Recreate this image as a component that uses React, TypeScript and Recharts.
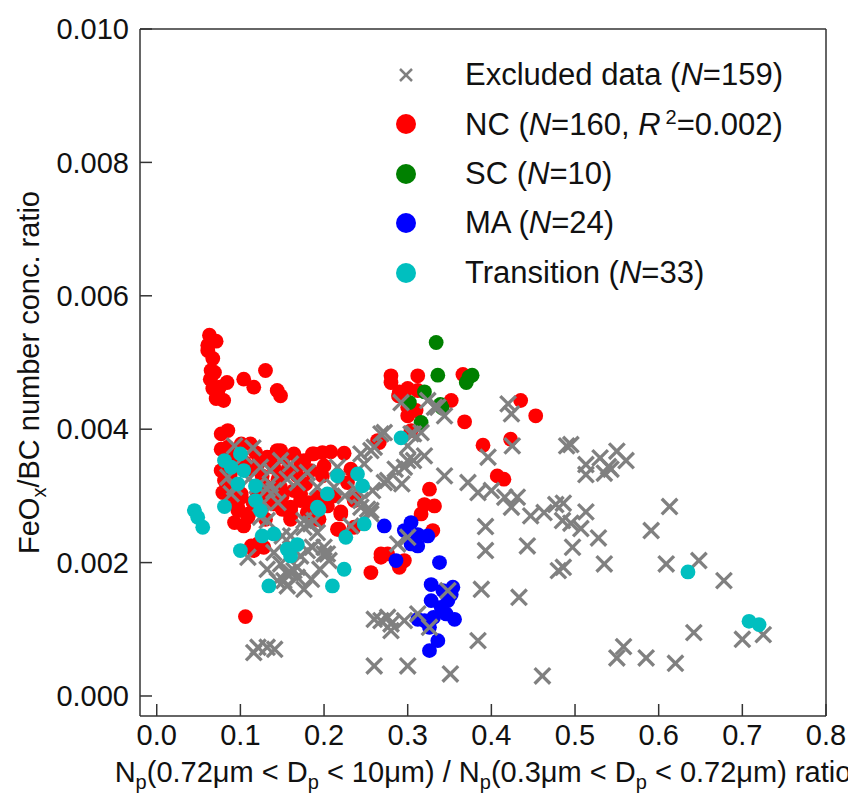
import React from 'react';
import { ScatterChart, Scatter, XAxis, YAxis, Label } from 'recharts';

// [x ratio, FeOx/BC ratio]
const excludedPts = [
  [0.292, 0.0044], [0.272, 0.00395], [0.3, 0.00353], [0.307, 0.00353], [0.296, 0.00343], [0.272, 0.0032], [0.293, 0.00318], [0.344, 0.0033], [0.372, 0.0032], [0.384, 0.00305],
  [0.396, 0.00358], [0.4, 0.00308], [0.416, 0.00298], [0.431, 0.00298], [0.42, 0.00438], [0.424, 0.00423], [0.425, 0.00375], [0.424, 0.00283], [0.447, 0.0027], [0.463, 0.00275],
  [0.477, 0.00287], [0.485, 0.00263], [0.49, 0.00375], [0.393, 0.00254], [0.443, 0.00225], [0.393, 0.00218], [0.48, 0.00188], [0.388, 0.0016], [0.433, 0.00148], [0.384, 0.00083],
  [0.461, 0.0003], [0.351, 0.00033], [0.3, 0.00045], [0.26, 0.00045], [0.26, 0.00115], [0.276, 0.00118], [0.28, 0.00098], [0.296, 0.00113], [0.312, 0.00123], [0.326, 0.00103],
  [0.348, 0.00158], [0.3, 0.00238], [0.288, 0.00228], [0.256, 0.00278], [0.258, 0.00308], [0.336, 0.00433], [0.344, 0.0042], [0.307, 0.00393], [0.256, 0.00368],
  [0.495, 0.00377], [0.513, 0.00347], [0.513, 0.00332], [0.53, 0.00357], [0.54, 0.00344], [0.55, 0.00367], [0.561, 0.00353], [0.535, 0.00334], [0.543, 0.0034], [0.486, 0.00289],
  [0.495, 0.00259], [0.513, 0.00276], [0.507, 0.00251], [0.497, 0.00223], [0.486, 0.00193], [0.528, 0.00237], [0.535, 0.00198], [0.613, 0.00284], [0.591, 0.00248], [0.609, 0.00198],
  [0.648, 0.00203], [0.678, 0.00173], [0.642, 0.00095], [0.7, 0.00085], [0.725, 0.00092], [0.558, 0.00074], [0.55, 0.00057], [0.585, 0.00057], [0.62, 0.00049],
  [0.109, 0.00208], [0.132, 0.0019], [0.148, 0.00198], [0.156, 0.00183], [0.164, 0.00188], [0.144, 0.00173], [0.156, 0.00165], [0.176, 0.0016], [0.168, 0.00178], [0.18, 0.00218],
  [0.2, 0.00213], [0.206, 0.00203], [0.121, 0.00073], [0.132, 0.00073], [0.141, 0.0007], [0.116, 0.00065], [0.268, 0.00113], [0.28, 0.00108],
  [0.132, 0.00263], [0.152, 0.00173], [0.16, 0.00185], [0.168, 0.00193], [0.176, 0.00263], [0.192, 0.00245], [0.204, 0.00213], [0.186, 0.00223], [0.244, 0.00283], [0.256, 0.00273],
  [0.136, 0.00338], [0.148, 0.00353], [0.16, 0.00348], [0.156, 0.00325], [0.168, 0.0032], [0.132, 0.0031], [0.14, 0.00308], [0.188, 0.00263], [0.176, 0.00253], [0.2, 0.00223],
  [0.212, 0.00313], [0.244, 0.00363], [0.248, 0.00348], [0.26, 0.00373], [0.268, 0.00393], [0.244, 0.00293], [0.252, 0.0028], [0.232, 0.00255], [0.276, 0.00323], [0.124, 0.00268],
  [0.093, 0.00375], [0.085, 0.00328], [0.124, 0.00343], [0.136, 0.00318], [0.192, 0.00313], [0.216, 0.00343], [0.093, 0.00313], [0.089, 0.00303], [0.184, 0.00258],
  [0.324, 0.00443], [0.332, 0.00433], [0.316, 0.00395], [0.304, 0.00393],
  [0.105, 0.0036], [0.115, 0.00372], [0.11, 0.00325], [0.12, 0.00315], [0.128, 0.0029], [0.145, 0.0029], [0.15, 0.0024], [0.14, 0.00215], [0.16, 0.0024], [0.172, 0.0021],
  [0.195, 0.0019], [0.185, 0.00175], [0.225, 0.003], [0.238, 0.0031], [0.3, 0.00375], [0.285, 0.0034], [0.32, 0.0036], [0.18, 0.00335],
];

const ncPts = [
  [0.063, 0.00541], [0.071, 0.00532], [0.061, 0.00526], [0.061, 0.00518], [0.067, 0.00506], [0.065, 0.00488], [0.069, 0.00485], [0.084, 0.0047], [0.067, 0.00461], [0.075, 0.00463],
  [0.071, 0.00446], [0.08, 0.00443], [0.073, 0.00452], [0.064, 0.00475],
  [0.104, 0.00475], [0.116, 0.00463], [0.13, 0.00488], [0.144, 0.00458], [0.148, 0.0045],
  [0.085, 0.00398], [0.077, 0.00393], [0.077, 0.0037], [0.085, 0.00373], [0.085, 0.00363], [0.101, 0.00378], [0.112, 0.00378], [0.144, 0.00368], [0.152, 0.00358], [0.132, 0.00358],
  [0.14, 0.00343], [0.156, 0.00338], [0.176, 0.00353], [0.186, 0.00363], [0.208, 0.00366], [0.224, 0.00364], [0.088, 0.00333], [0.085, 0.00313], [0.101, 0.00303], [0.097, 0.00283],
  [0.11, 0.00273], [0.14, 0.00298], [0.16, 0.00283], [0.16, 0.0027], [0.172, 0.00303], [0.192, 0.00265], [0.22, 0.00273], [0.236, 0.00293], [0.218, 0.0025], [0.264, 0.00383],
  [0.077, 0.00338], [0.081, 0.00323], [0.088, 0.00303], [0.101, 0.00298], [0.097, 0.00278], [0.109, 0.00268], [0.116, 0.00218], [0.128, 0.00223], [0.148, 0.00368], [0.136, 0.00358],
  [0.164, 0.00363], [0.188, 0.00363], [0.172, 0.00348], [0.184, 0.00338], [0.148, 0.00313], [0.164, 0.00308], [0.172, 0.00293], [0.14, 0.00288], [0.16, 0.00278], [0.16, 0.00265],
  [0.192, 0.00298], [0.194, 0.00265], [0.22, 0.00276], [0.216, 0.0025], [0.236, 0.00296], [0.236, 0.00253], [0.266, 0.0038], [0.268, 0.00213], [0.124, 0.00225], [0.121, 0.00228],
  [0.113, 0.00225], [0.256, 0.00185], [0.288, 0.002],
  [0.092, 0.00355], [0.095, 0.00345], [0.105, 0.0035], [0.11, 0.0034], [0.118, 0.00365], [0.122, 0.0035], [0.126, 0.0033], [0.13, 0.00315], [0.134, 0.003], [0.12, 0.00305],
  [0.115, 0.0029], [0.125, 0.0028], [0.13, 0.00265], [0.145, 0.00325], [0.15, 0.003], [0.15, 0.0028], [0.168, 0.0033], [0.178, 0.00318], [0.182, 0.0029], [0.18, 0.00275],
  [0.198, 0.0033], [0.2, 0.00345], [0.204, 0.00285], [0.212, 0.003], [0.228, 0.0032], [0.232, 0.0034], [0.198, 0.00365], [0.09, 0.0029], [0.093, 0.0026], [0.104, 0.00255],
  [0.082, 0.0035], [0.079, 0.00305],
  [0.106, 0.00119],
  [0.326, 0.0031], [0.332, 0.00285], [0.32, 0.00287], [0.316, 0.00273], [0.33, 0.00248], [0.276, 0.00213], [0.296, 0.00203], [0.29, 0.00193], [0.268, 0.00208],
  [0.28, 0.0048], [0.28, 0.0047], [0.312, 0.0048], [0.366, 0.00482], [0.29, 0.00456], [0.3, 0.00461], [0.312, 0.00458], [0.3, 0.00433], [0.31, 0.00428], [0.352, 0.00443],
  [0.368, 0.00411], [0.304, 0.00398], [0.39, 0.00376], [0.423, 0.00385], [0.435, 0.00443], [0.453, 0.0042], [0.407, 0.0033], [0.415, 0.00325], [0.289, 0.0045], [0.304, 0.0043],
  [0.3, 0.0042],
];

const scPts = [
  [0.334, 0.0053], [0.336, 0.00481], [0.377, 0.00481], [0.37, 0.0047], [0.373, 0.00478],
  [0.32, 0.00456], [0.302, 0.0044], [0.339, 0.00437], [0.316, 0.0041], [0.341, 0.00432],
];

const maPts = [
  [0.272, 0.00255], [0.304, 0.0026], [0.296, 0.00248], [0.312, 0.00242], [0.324, 0.0024], [0.304, 0.00228], [0.312, 0.00225], [0.286, 0.00203],
  [0.338, 0.002], [0.328, 0.00167], [0.354, 0.00163], [0.342, 0.00158], [0.328, 0.00143], [0.348, 0.00143], [0.34, 0.00133], [0.356, 0.00115],
  [0.331, 0.00118], [0.32, 0.00113], [0.326, 0.00103], [0.336, 0.00083], [0.326, 0.00068], [0.312, 0.00115], [0.346, 0.00123], [0.352, 0.00152],
];

const transitionPts = [
  [0.045, 0.00278], [0.049, 0.00268], [0.055, 0.00253], [0.081, 0.00284],
  [0.081, 0.00353], [0.1, 0.00363], [0.089, 0.00343], [0.104, 0.00338], [0.097, 0.00318], [0.118, 0.00315], [0.118, 0.00293], [0.124, 0.00278], [0.126, 0.0024], [0.1, 0.00218],
  [0.14, 0.00243], [0.156, 0.0022], [0.168, 0.00227], [0.134, 0.00165], [0.224, 0.0019], [0.21, 0.00165], [0.226, 0.00238], [0.248, 0.00258], [0.194, 0.0028], [0.216, 0.0033],
  [0.24, 0.00333], [0.246, 0.00315], [0.204, 0.00303], [0.192, 0.00283], [0.16, 0.0021],
  [0.292, 0.00387],
  [0.635, 0.00186], [0.708, 0.00112], [0.72, 0.00107],
];

const xTicks = [0, 0.1, 0.2, 0.3, 0.4, 0.5, 0.6, 0.7, 0.8];
const yTicks = [0, 0.002, 0.004, 0.006, 0.008, 0.01];

const toXY = (pts: number[][]) => pts.map(([x, y]) => ({ x, y }));

const FONT = '"Liberation Sans", Arial, sans-serif';
const AXIS = '#333';

const Dot = (color: string) => (props: any) => (
  <circle cx={props.cx} cy={props.cy} r={7.4} fill={color} />
);

const Cross = (props: any) => {
  const { cx, cy } = props;
  const s = 7.8;
  return (
    <g stroke="#808080" strokeWidth={3.3}>
      <line x1={cx - s} y1={cy - s} x2={cx + s} y2={cy + s} />
      <line x1={cx - s} y1={cy + s} x2={cx + s} y2={cy - s} />
    </g>
  );
};

const XTitle = (props: any) => {
  const { x, y, width } = props.viewBox;
  const sub = { dy: 7, fontSize: 20 };
  return (
    <text x={x + width / 2} y={y + 66} textAnchor="middle" fontSize={29} fill="#111" fontFamily={FONT}>
      N<tspan {...sub}>p</tspan>
      <tspan dy={-7}>(0.72μm {'<'} D</tspan>
      <tspan {...sub}>p</tspan>
      <tspan dy={-7}> {'<'} 10μm) / N</tspan>
      <tspan {...sub}>p</tspan>
      <tspan dy={-7}>(0.3μm {'<'} D</tspan>
      <tspan {...sub}>p</tspan>
      <tspan dy={-7}> {'<'} 0.72μm) ratio</tspan>
    </text>
  );
};

const YTitle = (props: any) => {
  const { y, height } = props.viewBox;
  const cx = 31;
  const cy = y + height / 2;
  return (
    <text x={cx} y={cy} transform={`rotate(-90, ${cx}, ${cy})`} textAnchor="middle" fontSize={29} fill="#111" fontFamily={FONT}>
      FeO<tspan dy={7} fontSize={20}>x</tspan>
      <tspan dy={-7}>/BC number conc. ratio</tspan>
    </text>
  );
};

const legendRows = [
  { label: 'Excluded data', n: '159', color: '#808080', cross: true },
  { label: 'NC', n: '160', color: '#ff0000', r2: '0.002' },
  { label: 'SC', n: '10', color: '#008000' },
  { label: 'MA', n: '24', color: '#0000ff' },
  { label: 'Transition', n: '33', color: '#00bfbf' },
];

const LegendBox = () => (
  <div style={{ position: 'absolute', left: 380, top: 42, fontFamily: FONT, fontSize: 31, color: '#111' }}>
    {legendRows.map((r) => (
      <div key={r.label} style={{ display: 'flex', alignItems: 'center', height: 49.5 }}>
        <svg width={36} height={36} style={{ marginRight: 41 }}>
          {r.cross ? (
            <g stroke={r.color} strokeWidth={2.5}>
              <line x1={12} y1={12} x2={24} y2={24} />
              <line x1={12} y1={24} x2={24} y2={12} />
            </g>
          ) : (
            <circle cx={18} cy={18} r={10} fill={r.color} />
          )}
        </svg>
        <span style={{ whiteSpace: 'nowrap' }}>
          {r.label} (<i>N</i>={r.n}
          {r.r2 ? (
            <>
              , <i>R</i>
              <sup style={{ fontSize: 20, marginLeft: 5 }}>2</sup>={r.r2}
            </>
          ) : null}
          )
        </span>
      </div>
    ))}
  </div>
);

const axisLine = { stroke: AXIS, strokeWidth: 1.5 };
const tickStyle = { fill: '#111', fontSize: 29, fontFamily: FONT };

export default function App() {
  return (
    <div style={{ position: 'relative', width: 848, height: 786 }}>
      <ScatterChart width={848} height={786} margin={{ top: 20, right: 29, bottom: 0, left: 0 }}>
        <XAxis
          xAxisId="b"
          dataKey="x"
          type="number"
          domain={[-0.02, 0.8]}
          ticks={xTicks}
          interval={0}
          allowDataOverflow
          height={78}
          tickSize={-12}
          tickMargin={20}
          axisLine={axisLine}
          tickLine={axisLine}
          tick={tickStyle}
          tickFormatter={(v: number) => v.toFixed(1)}
        >
          <Label content={XTitle} />
        </XAxis>
        <XAxis
          xAxisId="t"
          orientation="top"
          type="number"
          domain={[-0.02, 0.8]}
          ticks={xTicks}
          interval={0}
          allowDataOverflow
          height={1}
          tickSize={-12}
          axisLine={axisLine}
          tickLine={axisLine}
          tick={false}
        />
        <YAxis
          yAxisId="l"
          dataKey="y"
          type="number"
          domain={[-0.0003, 0.01]}
          ticks={yTicks}
          interval={0}
          allowDataOverflow
          width={132}
          tickSize={-12}
          tickMargin={23}
          axisLine={axisLine}
          tickLine={axisLine}
          tick={tickStyle}
          tickFormatter={(v: number) => v.toFixed(3)}
        >
          <Label content={YTitle} />
        </YAxis>
        <YAxis
          yAxisId="r"
          orientation="right"
          type="number"
          domain={[-0.0003, 0.01]}
          ticks={yTicks}
          interval={0}
          allowDataOverflow
          width={1}
          tickSize={-12}
          axisLine={axisLine}
          tickLine={axisLine}
          tick={false}
        />
        <Scatter xAxisId="b" yAxisId="l" data={toXY(ncPts)} shape={Dot('#ff0000')} isAnimationActive={false} />
        <Scatter xAxisId="b" yAxisId="l" data={toXY(scPts)} shape={Dot('#008000')} isAnimationActive={false} />
        <Scatter xAxisId="b" yAxisId="l" data={toXY(maPts)} shape={Dot('#0000ff')} isAnimationActive={false} />
        <Scatter xAxisId="b" yAxisId="l" data={toXY(excludedPts)} shape={Cross} isAnimationActive={false} />
        <Scatter xAxisId="b" yAxisId="l" data={toXY(transitionPts)} shape={Dot('#00bfbf')} isAnimationActive={false} />
      </ScatterChart>
      <LegendBox />
    </div>
  );
}
